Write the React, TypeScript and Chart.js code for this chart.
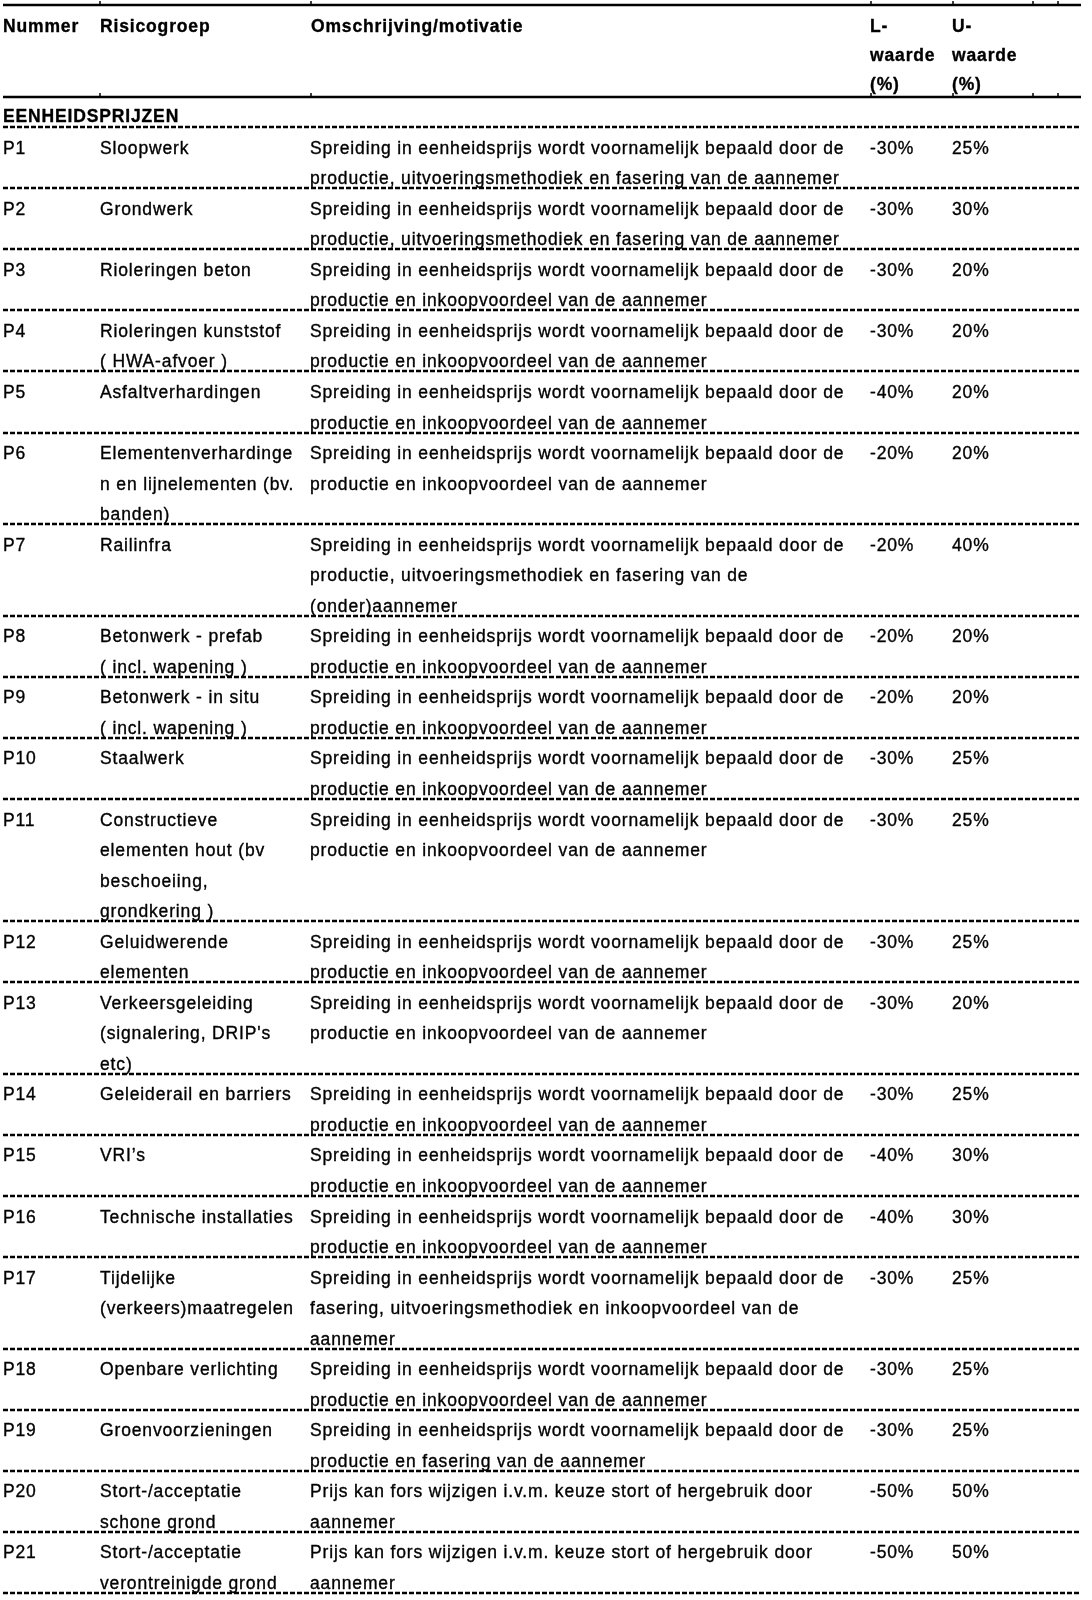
import { useEffect, useRef } from "react";
import { Chart, registerables } from "chart.js";

Chart.register(...registerables);

// ---- data ----
const headerNummer = ["Nummer"];
const headerRisico = ["Risicogroep"];
const headerOms = ["Omschrijving/motivatie"];
const headerL = ["L-", "waarde", "(%)"];
const headerU = ["U-", "waarde", "(%)"];
const sectionTitle = "EENHEIDSPRIJZEN";

const nummers = [
  "P1", "P2", "P3", "P4", "P5", "P6", "P7", "P8", "P9", "P10", "P11",
  "P12", "P13", "P14", "P15", "P16", "P17", "P18", "P19", "P20", "P21",
];

const risicogroepen: string[][] = [
  ["Sloopwerk"],
  ["Grondwerk"],
  ["Rioleringen beton"],
  ["Rioleringen kunststof", "( HWA-afvoer )"],
  ["Asfaltverhardingen"],
  ["Elementenverhardinge", "n en lijnelementen (bv.", "banden)"],
  ["Railinfra"],
  ["Betonwerk - prefab", "( incl. wapening )"],
  ["Betonwerk - in situ", "( incl. wapening )"],
  ["Staalwerk"],
  ["Constructieve", "elementen hout (bv", "beschoeiing,", "grondkering )"],
  ["Geluidwerende", "elementen"],
  ["Verkeersgeleiding", "(signalering, DRIP's", "etc)"],
  ["Geleiderail en barriers"],
  ["VRI’s"],
  ["Technische installaties"],
  ["Tijdelijke", "(verkeers)maatregelen"],
  ["Openbare verlichting"],
  ["Groenvoorzieningen"],
  ["Stort-/acceptatie", "schone grond"],
  ["Stort-/acceptatie", "verontreinigde grond"],
];

const SPR = "Spreiding in eenheidsprijs wordt voornamelijk bepaald door de";
const PRIJS = "Prijs kan fors wijzigen i.v.m. keuze stort of hergebruik door";
const omschrijvingen: string[][] = [
  [SPR, "productie, uitvoeringsmethodiek en fasering van de aannemer"],
  [SPR, "productie, uitvoeringsmethodiek en fasering van de aannemer"],
  [SPR, "productie en inkoopvoordeel van de aannemer"],
  [SPR, "productie en inkoopvoordeel van de aannemer"],
  [SPR, "productie en inkoopvoordeel van de aannemer"],
  [SPR, "productie en inkoopvoordeel van de aannemer"],
  [SPR, "productie, uitvoeringsmethodiek en fasering van de", "(onder)aannemer"],
  [SPR, "productie en inkoopvoordeel van de aannemer"],
  [SPR, "productie en inkoopvoordeel van de aannemer"],
  [SPR, "productie en inkoopvoordeel van de aannemer"],
  [SPR, "productie en inkoopvoordeel van de aannemer"],
  [SPR, "productie en inkoopvoordeel van de aannemer"],
  [SPR, "productie en inkoopvoordeel van de aannemer"],
  [SPR, "productie en inkoopvoordeel van de aannemer"],
  [SPR, "productie en inkoopvoordeel van de aannemer"],
  [SPR, "productie en inkoopvoordeel van de aannemer"],
  [SPR, "fasering, uitvoeringsmethodiek en inkoopvoordeel van de", "aannemer"],
  [SPR, "productie en inkoopvoordeel van de aannemer"],
  [SPR, "productie en fasering van de aannemer"],
  [PRIJS, "aannemer"],
  [PRIJS, "aannemer"],
];

const lWaarden = [-30, -30, -30, -30, -40, -20, -20, -20, -20, -30, -30, -30, -30, -30, -40, -40, -30, -30, -30, -50, -50];
const uWaarden = [25, 30, 20, 20, 20, 20, 40, 20, 20, 25, 25, 25, 20, 25, 30, 30, 25, 25, 25, 50, 50];

// ---- layout (style, not data) ----
const HEADER_LINES = 3;
const HEADER_SUBLINE_STEP = 0.95;
const SECTION_LINES = 1;
const COL_NUM = 3;
const COL_RIS = 100;
const COL_OMS = 310;
const COL_L = 870;
const COL_U = 952;
const LINE_LEFT = 3;
const LINE_RIGHT = 1081;
const TICKS = [100, 311, 871, 953, 1033, 1058];
const FONT_FAMILY = '"Liberation Sans", Arial, Helvetica, sans-serif';
const FONT_SIZE = 17.5;
const LETTER_SPACING = "0.85px";
const BASELINE_FRAC = 0.87;
const TEXT_STROKE = 0.35;

const rowLines = nummers.map((_, i) =>
  Math.max(1, risicogroepen[i].length, omschrijvingen[i].length)
);
const totalLines = HEADER_LINES + SECTION_LINES + rowLines.reduce((a, b) => a + b, 0);

const tablePlugin = {
  id: "tableDraw",
  afterDraw(chart: any) {
    const ctx: CanvasRenderingContext2D = chart.ctx;
    const xs = chart.scales.x;
    const ys = chart.scales.y;
    const px = (v: number) => xs.getPixelForValue(v);
    const py = (v: number) => ys.getPixelForValue(v);
    const unit = py(1) - py(0);
    const base = (line: number) => py(line) + unit * BASELINE_FRAC;

    ctx.save();
    ctx.fillStyle = "#000";
    ctx.strokeStyle = "#000";

    const solid = (line: number) => {
      const y = Math.round(py(line));
      ctx.setLineDash([]);
      ctx.lineWidth = 2.5;
      ctx.beginPath();
      ctx.moveTo(px(LINE_LEFT), y);
      ctx.lineTo(px(LINE_RIGHT), y);
      ctx.stroke();
      ctx.lineWidth = 1.5;
      TICKS.forEach((t) => {
        ctx.beginPath();
        ctx.moveTo(px(t), y - 4);
        ctx.lineTo(px(t), y);
        ctx.stroke();
      });
    };
    const dashed = (line: number) => {
      const y = Math.round(py(line));
      ctx.setLineDash([5, 2]);
      ctx.lineWidth = 2.5;
      ctx.beginPath();
      ctx.moveTo(px(LINE_LEFT), y);
      ctx.lineTo(px(LINE_RIGHT), y);
      ctx.stroke();
    };

    solid(0);
    solid(HEADER_LINES);
    let cur = HEADER_LINES + SECTION_LINES;
    dashed(cur);
    rowLines.forEach((n) => {
      cur += n;
      dashed(cur);
    });

    // text
    ctx.setLineDash([]);
    (ctx as any).letterSpacing = LETTER_SPACING;
    ctx.textBaseline = "alphabetic";
    ctx.textAlign = "left";
    ctx.lineWidth = TEXT_STROKE;
    ctx.lineJoin = "round";
    const text = (s: string, x: number, y: number) => {
      ctx.fillText(s, x, y);
      ctx.strokeText(s, x, y);
    };
    const drawLines = (lines: string[], x: number, startLine: number, step = 1) => {
      lines.forEach((s, k) => text(s, px(x), base(startLine + k * step)));
    };

    ctx.font = `bold ${FONT_SIZE}px ${FONT_FAMILY}`;
    drawLines(headerNummer, COL_NUM, 0);
    drawLines(headerRisico, COL_RIS, 0);
    drawLines(headerOms, COL_OMS + 1, 0);
    drawLines(headerL, COL_L, 0, HEADER_SUBLINE_STEP);
    drawLines(headerU, COL_U, 0, HEADER_SUBLINE_STEP);
    text(sectionTitle, px(COL_NUM), base(HEADER_LINES) - 1);

    ctx.font = `${FONT_SIZE}px ${FONT_FAMILY}`;
    let line = HEADER_LINES + SECTION_LINES;
    nummers.forEach((num, i) => {
      text(num, px(COL_NUM), base(line));
      drawLines(risicogroepen[i], COL_RIS, line);
      drawLines(omschrijvingen[i], COL_OMS, line);
      text(`${lWaarden[i]}%`, px(COL_L), base(line));
      text(`${uWaarden[i]}%`, px(COL_U), base(line));
      line += rowLines[i];
    });
    ctx.restore();
  },
};

export default function App() {
  const ref = useRef<HTMLCanvasElement>(null);
  useEffect(() => {
    document.body.style.margin = "0";
    const chart = new Chart(ref.current as HTMLCanvasElement, {
      type: "scatter",
      data: { datasets: [] },
      options: {
        responsive: false,
        animation: false,
        events: [],
        layout: { padding: { top: 5, bottom: 7, left: 0, right: 0 } },
        plugins: { legend: { display: false }, tooltip: { enabled: false } },
        scales: {
          x: { type: "linear", min: 0, max: 1092, display: false },
          y: { type: "linear", min: 0, max: totalLines, reverse: true, display: false },
        },
      },
      plugins: [tablePlugin],
    } as any);
    return () => chart.destroy();
  }, []);
  return (
    <div style={{ position: "absolute", left: 0, top: 0, width: 1092, height: 1600, background: "#fff" }}>
      <canvas ref={ref} width={1092} height={1600} style={{ display: "block", width: 1092, height: 1600 }} />
    </div>
  );
}
